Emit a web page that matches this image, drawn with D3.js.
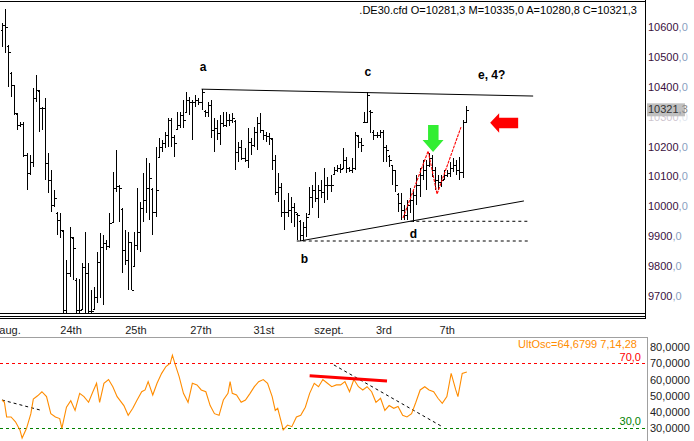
<!DOCTYPE html>
<html><head><meta charset="utf-8">
<script src="https://cdn.jsdelivr.net/npm/d3@7"></script>
<style>body{margin:0;background:#fff;} svg{display:block;font-family:"Liberation Sans",Arial,sans-serif;}</style>
</head><body><svg id="c" width="694" height="441"></svg>
<script>
const opens=[10590,10607,10535,10445,10406,10310,10272,10275,10172,10111,
10148,10362,10385,10329,10329,10145,10088,10004,9978,9954,
9918,9653,9777,9895,9755,9653,9655,9797,9777,9650,
9655,9697,9814,9864,9877,9867,9946,10061,10068,9990,
9854,9820,9880,9800,9871,9914,9994,10021,10061,10058,
9981,10165,10198,10212,
10240,10289,10232,10258,10272,10305,10315,
10356,10349,10349,10356,10349,10320,10315,10339,10255,10262,
10245,10279,10272,10289,
10290,10285,10182,10198,10161,10155,10215,
10205,10248,10279,10255,10238,
10235,10225,10155,10048,10065,9981,
9981,9988,9998,9975,9950,9904,9931,9975,10031,10054,
10028,10054,10048,10071,10071,10108,10121,10128,
10128,10155,10128,
10121,10128,10236,10215,10282,10282,10320,10250,10238,10238,
10248,10198,10170,
10138,10121,10040,10011,9988,9971,
10004,10021,10038,10071,10105,10121,10138,10161,10121,10088,
10081,10090,10105,10111,10128,10138,10121,10115,10281.3];
const highs=[10613,10660,10540,10449,10406,10312,10282,10282,10178,10172,
10396,10439,10389,10332,10362,10178,10121,10054,9981,9978,
9921,9820,9931,9898,9760,9757,9810,9914,9810,9720,
9730,9847,9911,9904,9887,9978,10115,10188,10071,9994,
9921,9914,9881,9914,10061,10014,10111,10161,10145,10061,
10198,10228,10222,10250,
10295,10295,10238,10315,10315,10356,10382,
10366,10356,10372,10362,10392,10322,10349,10356,10295,10289,
10305,10315,10315,10310,
10312,10289,10215,10222,10195,10262,10228,
10265,10299,10312,10255,10250,
10245,10228,10172,10111,10078,10021,
10044,10031,10011,9978,9954,9947,9978,10065,10071,10115,
10071,10088,10128,10098,10105,10131,10138,10140,
10195,10165,10131,
10161,10248,10238,10228,10315,10382,10322,10255,10248,10255,
10255,10205,10172,
10138,10121,10044,10044,10004,10021,
10061,10054,10105,10128,10155,10155,10178,10172,10131,10105,
10105,10121,10121,10148,10161,10155,10165,10289,10335];
const lows=[10533,10513,10399,10366,10305,10255,10265,10165,10054,10105,
10131,10349,10248,10255,10088,10044,9981,9998,9904,9894,
9630,9630,9763,9753,9630,9630,9653,9630,9630,9630,
9653,9677,9693,9670,9854,9860,9944,10048,9947,9777,
9804,9720,9720,9797,9854,9847,9947,9978,9954,9904,
9964,10161,10182,10195,
10198,10198,10165,10255,10262,10262,10312,
10305,10222,10332,10339,10322,10299,10299,10228,10182,10222,
10205,10265,10265,10270,
10279,10121,10148,10155,10148,10128,10172,
10198,10188,10245,10222,10215,
10205,10121,10038,10014,9964,9921,
9964,9944,9931,9887,9884,9887,9898,9971,9994,10014,
9961,10028,10011,10021,10048,10105,10115,10110,
10128,10111,10115,
10111,10121,10195,10182,10279,10279,10245,10222,10228,10228,
10148,10148,10131,
10071,10048,9981,9954,9954,9954,
9978,9947,10004,10031,10088,10054,10131,10098,10054,10054,
10065,10088,10098,10098,10115,10105,10088,10095,10280.8];
const closes=[10607,10600,10516,10406,10312,10272,10275,10172,10111,10148,
10362,10389,10329,10329,10145,10088,10004,10028,9954,9921,
9653,9777,9898,9860,9653,9653,9797,9777,9650,9650,
9697,9814,9864,9877,9867,9944,10061,10068,10061,9854,
9820,9881,9720,9871,9914,9994,10021,10061,10095,9981,
10054,10198,10212,10240,
10289,10232,10212,10272,10305,10289,10356,
10349,10349,10356,10349,10382,10315,10339,10255,10262,10245,
10279,10272,10289,10290,
10295,10182,10198,10161,10155,10215,10205,
10248,10279,10255,10238,10235,
10228,10155,10048,10065,9981,9981,
9988,9998,9981,9971,9904,9931,9964,10031,10054,10028,
10054,10048,10071,10071,10071,10121,10128,10125,
10155,10128,10121,
10128,10238,10215,10205,10282,10372,10315,10238,10238,10248,
10198,10188,10155,
10121,10071,10011,9988,9971,10004,
10021,10038,10071,10105,10121,10138,10161,10121,10088,10081,
10088,10105,10111,10128,10138,10121,10115,10282,10321.3];

const priceTicks=[9700,9800,9900,10000,10100,10200,10300,10400,10500,10600];
const dateLabels=["aug.","24th","25th","27th","31st","szept.","3rd","7th"];
const dateAt=[2.6,22.5,43.6,64.8,85.3,106.5,124.4,145];

const oscAt=[0,0.79,1.51,2.95,4.39,5.83,6.55,8.0,9.4,10.2,
11.6,13.0,14.5,15.9,17.4,18.8,19.5,21.0,22.4,23.8,
25.3,26.7,28.2,29.6,30.8,31.8,33.2,34.7,36.1,37.5,
39.7,41.1,42.6,44.0,45.5,46.6,47.6,49.1,50.5,52.0,
53.4,54.8,55.5,56.3,57.7,59.1,60.6,62.0,63.5,64.9,
66.4,67.8,69.2,70.7,72.1,73.6,74.3,75.0,76.4,77.9,
79.3,80.8,82.2,83.6,85.1,86.5,88.0,89.0,89.8,90.8,
91.6,93.0,94.4,95.9,97.3,98.8,100.2,101.7,103.1,104.5,
106.0,107.4,108.9,110.3,111.7,113.2,114.6,116.1,117.5,118.9,
120.4,121.8,123.3,124.7,126.1,127.6,129.0,130.5,131.9,133.4,
134.8,136.2,137.7,139.1,140.6,142.0,143.4,144.9,146.3,147.8,
148.5,149.9,151.4];
const oscVal=[47.4,46,37,37,34,29,24,30,39,48,
50,52.5,49.5,39,37,36,30,43,47,41,
51.5,49.5,46,52.5,57.7,46,57.7,60,55.6,49.5,
44,38,42.3,47.4,52.5,53.6,58.7,50.5,57.7,63.8,
68,70,75,70,61.8,51.5,46,57.7,56.7,53.6,
52.5,44,39,38,47.4,51.5,58.7,51.5,50.5,46,
47.4,51.5,55.6,58.7,60,57.7,49.5,41,42.3,35,
29,32,31,37,38,43,51.5,57.7,55.6,60,
57.7,55.6,56.7,56.7,58.7,52.5,60,55.6,53.6,55.6,
52.5,46,48.5,41,44,42.3,43.4,38,37,39,
46,53.6,55.6,53.6,52.5,48.5,45.4,49.5,63.8,53.6,
49.5,63.8,64.7];
const oscTicks=[30,40,50,60,70,80];
const oscLevels=[70,30];

// annotations in data coordinates [bar index, price]
const resistance=[[65,10392],[173,10369]];
const support=[[97,9884],[170,10018]];
const dashB=[[96,9884],[172,9884]];
const dashD=[[133,9950],[172,9950]];
const redWave=[[130.6,9961],[138.8,10185],[141.7,10041],[149.5,10265]];
const waveLabels=[{t:"a",i:65.5,p:10462},{t:"b",i:98.5,p:9822},{t:"c",i:119.2,p:10445},{t:"d",i:134,p:9905},{t:"e, 4?",i:159.5,p:10436}];
const greenArrowTip=[140.4,10182];
const redArrowTip=[159,10280];
const oscBlackLines=[[[0,47.4],[12.3,41.3]],[[108.1,69],[143.4,31]]];
const oscRedLine=[[100.2,62.4],[125.4,59.1]];

const svg=d3.select("#c");
const x=d3.scaleLinear().domain([0,closes.length-1]).range([2,465.6]);
const y=d3.scaleLinear().domain([9700,10600]).range([296,27]);
const yo=d3.scaleLinear().domain([30,70]).range([428.3,363.3]);

// frames
svg.append("line").attr("x1",0).attr("x2",646).attr("y1",1.5).attr("y2",1.5).attr("stroke","#000");
svg.append("line").attr("x1",645.5).attr("x2",645.5).attr("y1",0).attr("y2",319).attr("stroke","#000");
[313.5,316.5,318.5].forEach(v=>svg.append("line").attr("x1",0).attr("x2",646).attr("y1",v).attr("y2",v).attr("stroke","#000"));
svg.append("line").attr("x1",0).attr("x2",648).attr("y1",337.5).attr("y2",337.5).attr("stroke","#a0a0a0");
svg.append("line").attr("x1",647.5).attr("x2",647.5).attr("y1",337).attr("y2",441).attr("stroke","#a0a0a0");

svg.append("clipPath").attr("id","mc").append("rect").attr("x",0).attr("y",2).attr("width",645).attr("height",311);
const main=svg.append("g").attr("clip-path","url(#mc)");

// OHLC bars
const bars=main.append("g").attr("stroke","#000").attr("stroke-width",1.2).attr("shape-rendering","crispEdges");
closes.forEach((c,i)=>{
  const xi=Math.round(x(i))+0.5;
  bars.append("line").attr("x1",xi).attr("x2",xi).attr("y1",y(highs[i])).attr("y2",y(lows[i]));
  bars.append("line").attr("x1",xi-2).attr("x2",xi).attr("y1",Math.round(y(opens[i]))+0.5).attr("y2",Math.round(y(opens[i]))+0.5);
  bars.append("line").attr("x1",xi).attr("x2",xi+2).attr("y1",Math.round(y(c))+0.5).attr("y2",Math.round(y(c))+0.5);
});

const ln=d3.line().x(d=>x(d[0])).y(d=>y(d[1]));
main.append("path").attr("d",ln(resistance)).attr("fill","none").attr("stroke","#000");
main.append("path").attr("d",ln(support)).attr("fill","none").attr("stroke","#000");
main.append("path").attr("d",ln(dashB)).attr("fill","none").attr("stroke","#000").attr("stroke-dasharray","3,3");
main.append("path").attr("d",ln(dashD)).attr("fill","none").attr("stroke","#000").attr("stroke-dasharray","3,3");
main.append("path").attr("d",ln(redWave)).attr("fill","none").attr("stroke","#ff0000").attr("stroke-width",1.1).attr("stroke-dasharray","3,1");

waveLabels.forEach(l=>main.append("text").attr("x",x(l.i)).attr("y",y(l.p)).attr("text-anchor","middle")
  .attr("dominant-baseline","middle").attr("font-size",12).attr("font-weight","bold").attr("fill","#000").text(l.t));

// arrows
{const tx=x(greenArrowTip[0]), ty=y(greenArrowTip[1]);
 main.append("path").attr("fill","#33ee33").attr("d",
 `M${tx},${ty} L${tx-10.5},${ty-12} L${tx-5},${ty-12} L${tx-5},${ty-27} L${tx+5.5},${ty-27} L${tx+5.5},${ty-12} L${tx+10.5},${ty-12} Z`);}
{const tx=x(redArrowTip[0]), ty=y(redArrowTip[1]);
 main.append("path").attr("fill","#ff0000").attr("d",
 `M${tx},${ty} L${tx+9},${ty-9.5} L${tx+9},${ty-5} L${tx+28},${ty-5} L${tx+28},${ty+5.5} L${tx+9},${ty+5.5} L${tx+9},${ty+10} Z`);}

// header
svg.append("text").attr("x",637).attr("y",14).attr("text-anchor","end").attr("font-size",11).attr("fill","#000")
  .text(".DE30.cfd O=10281,3 M=10335,0 A=10280,8 C=10321,3");

// price axis
const pa=svg.append("g").attr("transform","translate(648,0)").call(d3.axisRight(y).tickValues(priceTicks).tickSize(0).tickPadding(0));
pa.select(".domain").remove();
pa.selectAll("text").each(function(d){
  const t=d3.select(this); t.text(null).attr("font-size",11).attr("font-family","Liberation Sans, Arial, sans-serif").attr("fill","#3a1040");
  t.append("tspan").text(d3.format("d")(d));
  t.append("tspan").attr("fill","#8aa0c0").text(",0");
});
// last price box (covers the 10300 tick label, as in the reference)
{const last=closes[closes.length-1], yy=y(last);
 pa.selectAll("text").filter(d=>Math.abs(y(d)-yy)<12).attr("opacity",0.25);
 svg.append("rect").attr("x",647).attr("y",yy-7).attr("width",38).attr("height",13).attr("fill","#c0c0c0");
 const t=svg.append("text").attr("x",648).attr("y",yy).attr("dominant-baseline","middle").attr("font-size",11).attr("fill","#333");
 t.append("tspan").text(Math.floor(last)); t.append("tspan").attr("fill","#888").text(","+String(last).split(".")[1]);}

// date labels
svg.append("g").selectAll("text").data(dateLabels).join("text")
  .attr("x",(d,i)=>x(dateAt[i])).attr("y",334).attr("text-anchor","middle").attr("font-size",11).attr("fill","#222").text(d=>d);

// oscillator
const osc=svg.append("g");
const xo=d3.scaleLinear().domain([0,151]).range([2,465.6]);
oscLevels.forEach(v=>osc.append("line").attr("x1",0).attr("x2",646).attr("y1",Math.round(yo(v))+0.5).attr("y2",Math.round(yo(v))+0.5)
  .attr("stroke",v===70?"#ff0000":"#008000").attr("stroke-dasharray","3,3"));
const lo=d3.line().x(d=>xo(d[0])).y(d=>yo(d[1]));
oscBlackLines.forEach(s=>osc.append("path").attr("d",lo(s)).attr("fill","none").attr("stroke","#000").attr("stroke-dasharray","3,3"));
osc.append("path").attr("d",lo(oscAt.map((a,i)=>[a,oscVal[i]]))).attr("fill","none").attr("stroke","#ff8c00").attr("stroke-width",1.1);
osc.append("path").attr("d",lo(oscRedLine)).attr("fill","none").attr("stroke","#ff0000").attr("stroke-width",3);
osc.append("text").attr("x",637).attr("y",348).attr("text-anchor","end").attr("font-size",11).attr("fill","#ff8c00").text("UltOsc=64,6799  7,14,28");
osc.append("text").attr("x",641).attr("y",361).attr("text-anchor","end").attr("font-size",11).attr("fill","#ff0000").text("70,0");
osc.append("text").attr("x",641).attr("y",425).attr("text-anchor","end").attr("font-size",11).attr("fill","#008000").text("30,0");
const oa=svg.append("g").attr("transform","translate(650,0)").call(d3.axisRight(yo).tickValues(oscTicks).tickSize(0).tickPadding(0)
  .tickFormat(v=>d3.format(".4f")(v).replace(".",",")));
oa.select(".domain").remove();
oa.selectAll("text").attr("font-size",11).attr("font-family","Liberation Sans, Arial, sans-serif").attr("fill","#222");
</script></body></html>
